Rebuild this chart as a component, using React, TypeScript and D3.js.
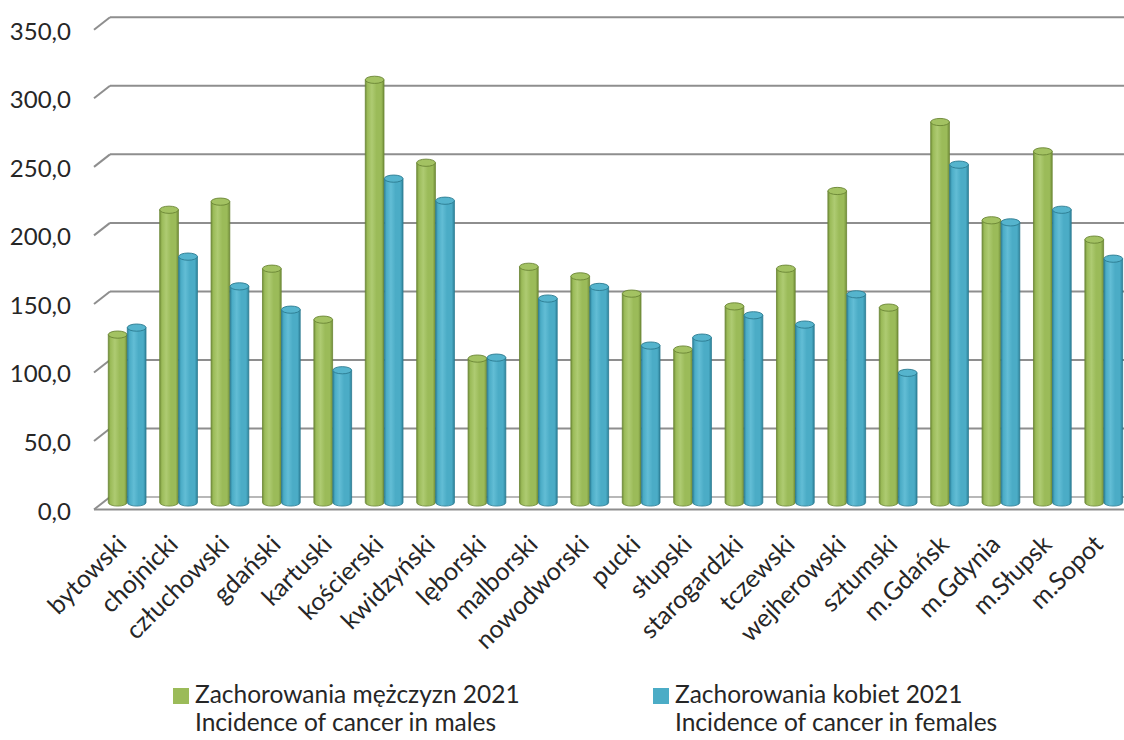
import React from "react";
import * as d3 from "d3";

const categories = [
  "bytowski", "chojnicki", "człuchowski", "gdański", "kartuski", "kościerski",
  "kwidzyński", "lęborski", "malborski", "nowodworski", "pucki", "słupski",
  "starogardzki", "tczewski", "wejherowski", "sztumski", "m.Gdańsk",
  "m.Gdynia", "m.Słupsk", "m.Sopot",
];
const males = [122.5, 213.6, 219.5, 170.6, 133.4, 308.4, 247.9, 105.0, 172.0, 165.0,
  152.4, 111.6, 143.1, 170.6, 227.3, 142.2, 277.6, 205.9, 256.2, 191.8];
const females = [127.6, 179.4, 157.7, 140.7, 96.5, 236.3, 220.2, 105.7, 148.8, 157.3,
  114.5, 120.3, 136.6, 129.8, 151.9, 94.6, 246.5, 204.4, 213.6, 177.9];
const yTicks = [0, 50, 100, 150, 200, 250, 300, 350];
const seriesNames = ["Zachorowania mężczyzn 2021", "Zachorowania kobiet 2021"];
const seriesNamesEn = ["Incidence of cancer in males", "Incidence of cancer in females"];

const W = 1124;
const H = 740;
const FONT = "Lato, 'Open Sans', sans-serif";

export default function App() {
  const depthDx = -16;
  const depthDy = 12.5;
  const backLeft = 110;

  const yBack = d3.scaleLinear().domain([0, 350]).range([497, 17.3]);
  const yBar = d3.scaleLinear().domain([0, 350]).range([502.5, 22.8]);
  const x = d3.scaleBand<string>()
    .domain(categories)
    .range([101.3, 101.3 + 20 * 51.4])
    .paddingInner(0.272)
    .paddingOuter(0.136);
  const bw = x.bandwidth() / 2;

  const colors = [
    { main: "#9bbb59", light: "#aecb72", dark: "#738f3a", edge: "#6a8534", top: "#a3c262" },
    { main: "#4bacc6", light: "#62bdd5", dark: "#2f849c", edge: "#2b7a90", top: "#55b4cd" },
  ];

  const fmt = (v: number) => d3.format(".1f")(v).replace(".", ",");

  const bars: any[] = [];
  categories.forEach((c, i) => {
    [males[i], females[i]].forEach((v, s) => {
      const x0 = (x(c) as number) + s * (bw + 0.3);
      const top = yBar(v);
      const base = yBar(0);
      const ry = 3.6;
      const col = colors[s];
      bars.push(
        <g key={`${c}-${s}`}>
          <path
            d={`M${x0},${top} L${x0},${base} A${bw / 2},${ry} 0 0 0 ${x0 + bw},${base} L${x0 + bw},${top} Z`}
            fill={`url(#grad${s})`}
            stroke={col.edge}
            strokeWidth={0.8}
          />
          <ellipse cx={x0 + bw / 2} cy={top} rx={bw / 2} ry={ry} fill={col.top} stroke={col.edge} strokeWidth={0.9} />
        </g>
      );
    });
  });

  return (
    <div style={{ position: "absolute", left: 0, top: 0, width: W, height: H, background: "#fff" }}>
      <svg width={W} height={H} style={{ display: "block" }}>
        <defs>
          {colors.map((col, s) => (
            <linearGradient id={`grad${s}`} key={s} x1="0" x2="1" y1="0" y2="0">
              <stop offset="0" stopColor={col.dark} />
              <stop offset="0.12" stopColor={col.main} />
              <stop offset="0.35" stopColor={col.light} />
              <stop offset="0.6" stopColor={col.main} />
              <stop offset="0.85" stopColor={col.main} />
              <stop offset="1" stopColor={col.dark} />
            </linearGradient>
          ))}
        </defs>

        {/* gridlines (back wall + side) */}
        {yTicks.map((t) => {
          const y = yBack(t);
          return (
            <g key={`g${t}`} stroke="#8e8e8e" strokeWidth={2} fill="none">
              {t > 0 && <line x1={backLeft} x2={W + 5} y1={y} y2={y} />}
              <line x1={backLeft} y1={y} x2={backLeft + depthDx} y2={y + depthDy} />
            </g>
          );
        })}
        {/* floor */}
        <g stroke="#a0a0a0" strokeWidth={1.5} fill="none">
          <line x1={backLeft} x2={W + 5} y1={yBack(0)} y2={yBack(0)} />
          <line x1={backLeft + depthDx} x2={W + 5} y1={yBack(0) + depthDy} y2={yBack(0) + depthDy} stroke="#8e8e8e" strokeWidth={2} />
        </g>

        {bars}

        {/* y axis labels */}
        {yTicks.map((t) => (
          <text key={`l${t}`} x={71} y={yBack(t) + depthDy + 10} textAnchor="end"
            fontFamily={FONT} fontSize={24} fill="#262626">
            {fmt(t)}
          </text>
        ))}

        {/* category labels */}
        {categories.map((c) => {
          const cx = (x(c) as number) + x.bandwidth() / 2 + 1;
          const cy = 546;
          return (
            <text key={`c${c}`} x={cx} y={cy} textAnchor="end"
              transform={`rotate(-45 ${cx} ${cy})`}
              fontFamily={FONT} fontSize={25} fill="#262626">
              {c}
            </text>
          );
        })}

        {/* legend */}
        {[0, 1].map((s) => {
          const lx = s === 0 ? 173 : 653;
          return (
            <g key={`lg${s}`}>
              <rect x={lx} y={688} width={16} height={16} fill={colors[s].main} />
              <text x={lx + 22} y={703} fontFamily={FONT} fontSize={24.5} fill="#262626">{seriesNames[s]}</text>
              <text x={lx + 22} y={731} fontFamily={FONT} fontSize={24.5} fill="#262626">{seriesNamesEn[s]}</text>
            </g>
          );
        })}
      </svg>
    </div>
  );
}
